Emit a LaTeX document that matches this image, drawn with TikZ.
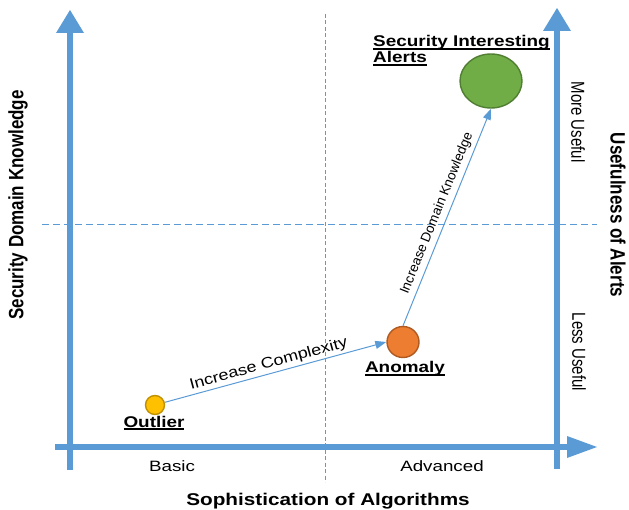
\documentclass[tikz,border=0pt]{standalone}
\usepackage{fontspec}
\setmainfont{Liberation Sans}
\usetikzlibrary{arrows.meta,shapes.geometric}

\definecolor{axisblue}{RGB}{91,155,213}
\definecolor{greenfill}{RGB}{112,173,71}
\definecolor{greenedge}{RGB}{80,126,50}
\definecolor{orangefill}{RGB}{237,125,49}
\definecolor{orangeedge}{RGB}{174,90,33}
\definecolor{yellowfill}{RGB}{255,192,0}
\definecolor{yellowedge}{RGB}{191,144,0}

% bold text with a heavy underline
\newcommand{\ultext}[1]{\sbox0{#1}\rlap{\rule[-2.6pt]{\wd0}{1.3pt}}\usebox0}

\begin{document}
\begin{tikzpicture}[x=1pt,y=-1pt,
  axisline/.style={draw=axisblue, line width=6pt},
  guide/.style={draw=axisblue, line width=0.9pt},
  conn/.style={draw=axisblue, line width=1pt, -{Triangle[length=11pt,width=8pt]}},
  bubble/.style={ellipse, line width=1.4pt, inner sep=0pt},
  lbl/.style={font=\fontsize{15}{16}\selectfont, xscale=1.25, inner sep=0pt},
  ttl/.style={font=\fontsize{17}{18}\selectfont\bfseries, xscale=1.22, inner sep=0pt},
  tag/.style={font=\fontsize{15.5}{16}\selectfont\bfseries, xscale=1.22, inner sep=0pt},
  slopetxt/.style={font=\fontsize{15}{16}\selectfont, sloped, above},
]
\useasboundingbox (0,0) rectangle (629,510);

% quadrant guides
\draw[guide, dash pattern=on 7pt off 4pt] (42,224) -- (597,224);
\draw[guide, dash pattern=on 4pt off 2.5pt] (325,14) -- (325,482);

% left axis
\draw[axisline] (70,470) -- (70,31);
\fill[axisblue] (56,33) -- (84,33) -- (70,10) -- cycle;
% right axis
\draw[axisline] (557,469) -- (557,29);
\fill[axisblue] (543,31) -- (571,31) -- (557,8) -- cycle;
% bottom axis
\draw[axisline] (55,447) -- (569,447);
\fill[axisblue] (567,436) -- (567,458) -- (597,447) -- cycle;

% alert classes
\node[bubble, draw=yellowedge, fill=yellowfill, minimum width=19pt, minimum height=19pt] (outlier) at (155,405) {};
\node[bubble, draw=orangeedge, fill=orangefill, minimum width=32pt, minimum height=31pt] (anomaly) at (403,342) {};
\node[bubble, draw=greenedge, fill=greenfill, minimum width=62pt, minimum height=54pt] (secalert) at (491,81) {};

\node[tag, anchor=base] (outlierlbl) at (154,427) {\ultext{Outlier}};
\node[tag, anchor=base] (anomalylbl) at (405,373) {\ultext{Anomaly}};
\node[tag, anchor=base west] (seclbla) at (373,47) {\ultext{Security Interesting}};
\node[tag, anchor=base west] (seclblb) at (373,63) {\ultext{Alerts}};

% progressions
\draw[conn] (outlier) -- (anomaly.west)
  node[slopetxt, pos=0.48, inner sep=2pt] {\scalebox{1.2}[1]{Increase Complexity}};
\draw[conn] (anomaly.north) -- (secalert.south)
  node[slopetxt, midway, font=\fontsize{13.5}{14}\selectfont, inner sep=4pt] {Increase Domain Knowledge};

% axis texts
\node[lbl, anchor=base] (basic) at (172,471) {Basic};
\node[lbl, anchor=base] (advanced) at (442,471) {Advanced};
\node[ttl, anchor=base] (xtitle) at (328,505) {Sophistication of Algorithms};
\node[ttl, rotate=90] (ytitle) at (18,205) {Security Domain Knowledge};
\node[ttl, rotate=-90] (rtitle) at (618,215) {Usefulness of Alerts};
\node[lbl, rotate=-90] (more) at (578,122) {More Useful};
\node[lbl, rotate=-90] (less) at (579,352) {Less Useful};
\end{tikzpicture}
\end{document}
